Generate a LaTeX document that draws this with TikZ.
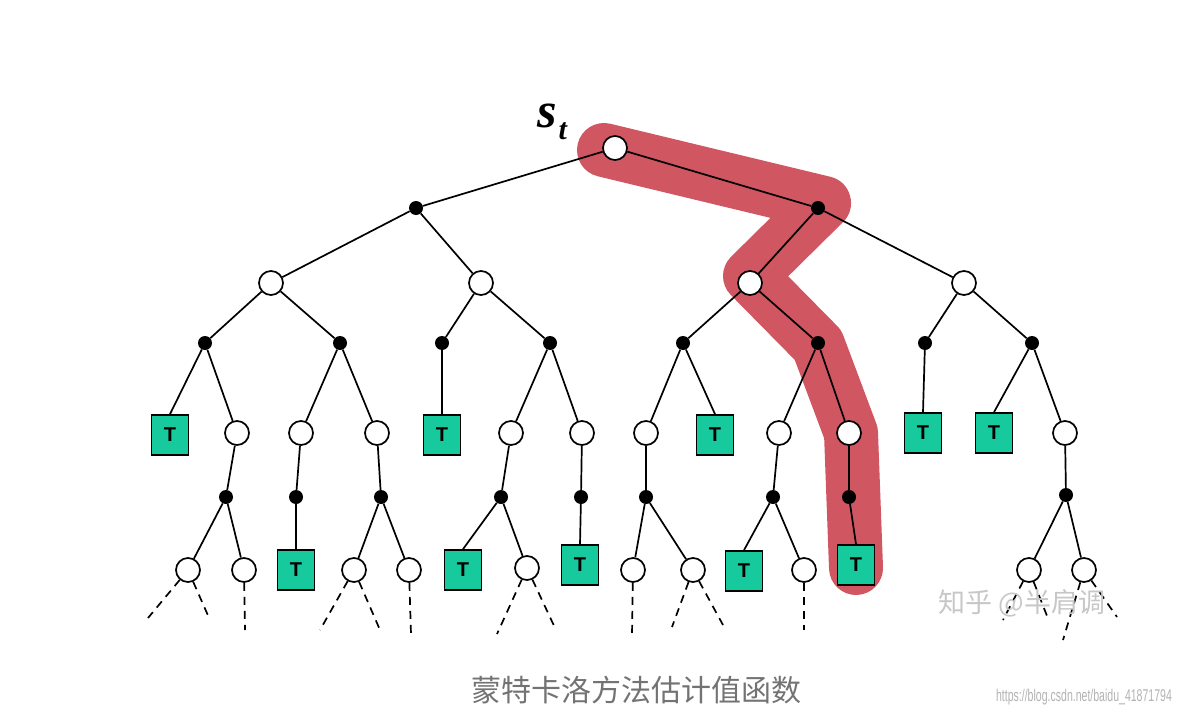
\documentclass[tikz,border=0pt]{standalone}
\usepackage{fontspec}
\setmainfont{Liberation Serif}
\setsansfont{Liberation Sans}
\newfontfamily\cjk{Noto Sans CJK SC}
\definecolor{tealT}{RGB}{22,202,158}
\definecolor{hl}{RGB}{208,86,98}
\begin{document}
\begin{tikzpicture}[x=1pt,y=-1pt,
  ocirc/.style={circle,draw,fill=white,minimum size=24pt,inner sep=0pt,line width=1.7pt},
  bdot/.style={circle,fill=black,minimum size=14pt,inner sep=0pt},
  tbox/.style={draw,fill=tealT,minimum width=37pt,minimum height=40pt,inner sep=0pt,line width=1.7pt,
    font=\sffamily\bfseries\fontsize{20}{20}\selectfont},
  edge/.style={line width=1.7pt},
  dedge/.style={line width=1.7pt,dash pattern=on 8pt off 6pt}]
\useasboundingbox (0,0) rectangle (1178,717);
% red highlight
\draw[hl,line width=54pt,line cap=round,line join=round]
  (604,150) -- (824,203) -- (750,276) -- (818,345) -- (851,433) -- (856,568);
% nodes
\node[ocirc] (r) at (615,148) {};
\node[bdot] (a) at (416,208) {};
\node[bdot] (b) at (818,208) {};
\node[ocirc] (a1) at (271,283) {};
\node[ocirc] (a2) at (481,283) {};
\node[ocirc] (b1) at (750,283) {};
\node[ocirc] (b2) at (964,283) {};
\node[bdot] (a1x) at (205,343) {};
\node[bdot] (a1y) at (340,343) {};
\node[bdot] (a2x) at (442,343) {};
\node[bdot] (a2y) at (550,343) {};
\node[bdot] (b1x) at (683,343) {};
\node[bdot] (b1y) at (818,343) {};
\node[bdot] (b2x) at (925,343) {};
\node[bdot] (b2y) at (1032,343) {};
% level 4
\node[tbox] (t1) at (170,435) {T};
\node[ocirc] (c1) at (237,433) {};
\node[ocirc] (c2) at (301,433) {};
\node[ocirc] (c3) at (377,433) {};
\node[tbox] (t2) at (442,435) {T};
\node[ocirc] (c4) at (511,433) {};
\node[ocirc] (c5) at (582,433) {};
\node[ocirc] (c6) at (646,433) {};
\node[tbox] (t3) at (715,435) {T};
\node[ocirc] (c7) at (779,433) {};
\node[ocirc] (c8) at (849,433) {};
\node[tbox] (t4) at (923,433) {T};
\node[tbox] (t5) at (994,433) {T};
\node[ocirc] (c9) at (1065,433) {};
% level 5
\node[bdot] (d1) at (226,497) {};
\node[bdot] (d2) at (296,497) {};
\node[bdot] (d3) at (381,497) {};
\node[bdot] (d4) at (501,497) {};
\node[bdot] (d5) at (581,497) {};
\node[bdot] (d6) at (646,497) {};
\node[bdot] (d7) at (773,497) {};
\node[bdot] (d8) at (849,497) {};
\node[bdot] (d9) at (1066,495) {};
% level 6
\node[ocirc] (e1) at (188,570) {};
\node[ocirc] (e2) at (244,570) {};
\node[tbox] (t6) at (296,570) {T};
\node[ocirc] (e3) at (354,570) {};
\node[ocirc] (e4) at (409,570) {};
\node[tbox] (t7) at (463,570) {T};
\node[ocirc] (e5) at (527,568) {};
\node[tbox] (t8) at (580,565) {T};
\node[ocirc] (e6) at (633,570) {};
\node[ocirc] (e7) at (693,570) {};
\node[tbox] (t9) at (744,571) {T};
\node[ocirc] (e8) at (804,570) {};
\node[tbox] (t10) at (856,565) {T};
\node[ocirc] (e9) at (1029,570) {};
\node[ocirc] (e10) at (1084,570) {};
% edges
\draw[edge] (r) -- (a);
\draw[edge] (r) -- (b);
\draw[edge] (a) -- (a1); \draw[edge] (a) -- (a2);
\draw[edge] (b) -- (b1); \draw[edge] (b) -- (b2);
\draw[edge] (a1) -- (a1x); \draw[edge] (a1) -- (a1y);
\draw[edge] (a2) -- (a2x); \draw[edge] (a2) -- (a2y);
\draw[edge] (b1) -- (b1x); \draw[edge] (b1) -- (b1y);
\draw[edge] (b2) -- (b2x); \draw[edge] (b2) -- (b2y);
\draw[edge] (a1x) -- (t1.north); \draw[edge] (a1x) -- (c1);
\draw[edge] (a1y) -- (c2); \draw[edge] (a1y) -- (c3);
\draw[edge] (a2x) -- (t2.north);
\draw[edge] (a2y) -- (c4); \draw[edge] (a2y) -- (c5);
\draw[edge] (b1x) -- (c6); \draw[edge] (b1x) -- (t3.north);
\draw[edge] (b1y) -- (c7); \draw[edge] (b1y) -- (c8);
\draw[edge] (b2x) -- (t4.north);
\draw[edge] (b2y) -- (t5.north); \draw[edge] (b2y) -- (c9);
\draw[edge] (c1) -- (d1); \draw[edge] (c2) -- (d2); \draw[edge] (c3) -- (d3);
\draw[edge] (c4) -- (d4); \draw[edge] (c5) -- (d5); \draw[edge] (c6) -- (d6);
\draw[edge] (c7) -- (d7); \draw[edge] (c8) -- (d8); \draw[edge] (c9) -- (d9);
\draw[edge] (d1) -- (e1); \draw[edge] (d1) -- (e2);
\draw[edge] (d2) -- (t6.north);
\draw[edge] (d3) -- (e3); \draw[edge] (d3) -- (e4);
\draw[edge] (d4) -- (t7.north); \draw[edge] (d4) -- (e5);
\draw[edge] (d5) -- (t8.north);
\draw[edge] (d6) -- (e6); \draw[edge] (d6) -- (e7);
\draw[edge] (d7) -- (t9.north); \draw[edge] (d7) -- (e8);
\draw[edge] (d8) -- (t10.north);
\draw[edge] (d9) -- (e9); \draw[edge] (d9) -- (e10);
% dashed continuation
\coordinate (f1) at (148,618); \coordinate (f2) at (210,620);
\coordinate (f3) at (245,630);
\coordinate (f4) at (320,630); \coordinate (f5) at (380,630);
\coordinate (f6) at (411,634);
\coordinate (f7) at (497,634); \coordinate (f8) at (556,630);
\coordinate (f9) at (632,635);
\coordinate (f10) at (672,627); \coordinate (f11) at (723,625);
\coordinate (f12) at (804,630);
\coordinate (f13) at (1003,620); \coordinate (f14) at (1049,621);
\coordinate (f15) at (1063,640); \coordinate (f16) at (1117,617);
\draw[dedge] (e1) -- (f1); \draw[dedge] (e1) -- (f2);
\draw[dedge] (e2) -- (f3);
\draw[dedge] (e3) -- (f4); \draw[dedge] (e3) -- (f5);
\draw[dedge] (e4) -- (f6);
\draw[dedge] (e5) -- (f7); \draw[dedge] (e5) -- (f8);
\draw[dedge] (e6) -- (f9);
\draw[dedge] (e7) -- (f10); \draw[dedge] (e7) -- (f11);
\draw[dedge] (e8) -- (f12);
\draw[dedge] (e9) -- (f13); \draw[dedge] (e9) -- (f14);
\draw[dedge] (e10) -- (f15); \draw[dedge] (e10) -- (f16);
% labels
\node[inner sep=0pt,anchor=base west] (st) at (537,127)
  {\bfseries\itshape\fontsize{50}{50}\selectfont s\kern2pt\raisebox{-12pt}{\fontsize{30}{30}\selectfont t}};
\node[inner sep=0pt,text=black!22] (wm) at (1022,603)
  {\cjk\fontsize{27}{27}\selectfont 知乎 @半肩调};
\node[inner sep=0pt,text=black!55] (cap) at (636,690)
  {\cjk\fontsize{30}{30}\selectfont 蒙特卡洛方法估计值函数};
\node[inner sep=0pt,text=black!30] (url) at (1084,697)
  {\scalebox{0.62}[1]{\sffamily\fontsize{17}{17}\selectfont https://blog.csdn.net/baidu\_41871794}};
\end{tikzpicture}
\end{document}
